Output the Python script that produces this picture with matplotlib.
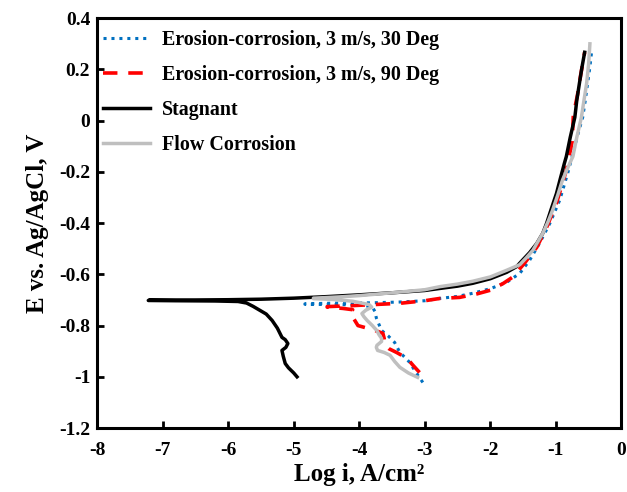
import matplotlib.pyplot as plt
from matplotlib.ticker import FuncFormatter

plt.rcParams['font.family'] = ['Liberation Serif', 'DejaVu Serif']
plt.rcParams['font.weight'] = 'bold'
plt.rcParams['axes.unicode_minus'] = False

# Erosion-corrosion, 3 m/s, 30 Deg
ec30_x = [-3.03, -3.13, -3.23, -3.30, -3.38, -3.46, -3.56, -3.66, -3.70, -3.74, -3.76, -3.80, -3.95, -4.3, -4.83,
          -4.83, -4.3, -3.8, -3.38, -3.0, -2.77, -2.5, -2.27, -2.0, -1.75, -1.55, -1.40, -1.25, -1.09, -0.94,
          -0.82, -0.74, -0.66, -0.59, -0.55, -0.515, -0.48, -0.455]
ec30_y = [-1.022, -0.985, -0.944, -0.925, -0.905, -0.866, -0.84, -0.819, -0.795, -0.77, -0.745, -0.728, -0.72, -0.718, -0.717,
          -0.715, -0.712, -0.711, -0.708, -0.703, -0.694, -0.686, -0.674, -0.656, -0.631, -0.596, -0.545, -0.479, -0.40, -0.31,
          -0.206, -0.13, -0.05, 0.013, 0.08, 0.146, 0.21, 0.267]

# Erosion-corrosion, 3 m/s, 90 Deg
ec90_x = [-3.08, -3.18, -3.27, -3.43, -3.55, -3.61, -3.62, -3.64, -3.75, -3.88, -4.02, -4.08, -4.14, -4.10, -4.25, -4.49,
          -4.49, -4.1, -3.7, -3.38, -3.0, -2.77, -2.47, -2.2, -2.0, -1.8, -1.66, -1.48, -1.29, -1.14, -0.99,
          -0.84, -0.75, -0.73, -0.71, -0.67, -0.62, -0.56]
ec90_y = [-0.983, -0.955, -0.928, -0.905, -0.89, -0.877, -0.85, -0.83, -0.82, -0.81, -0.80, -0.775, -0.753, -0.738, -0.733, -0.728,
          -0.726, -0.722, -0.717, -0.713, -0.703, -0.694, -0.69, -0.676, -0.662, -0.635, -0.611, -0.557, -0.494, -0.416, -0.322,
          -0.194, -0.08, 0.04, 0.05, 0.1, 0.18, 0.267]

# Stagnant
stag_x = [-4.95, -5.0, -5.08, -5.13, -5.16, -5.18, -5.12, -5.09, -5.13, -5.18, -5.25, -5.33, -5.42, -5.52, -5.62, -5.72,
          -5.85, -6.2, -6.8, -7.22,
          -7.2, -6.5, -6.0, -5.5, -5.0, -4.5, -4.0, -3.5, -3.0, -2.77, -2.5, -2.27, -2.0, -1.75, -1.6, -1.51,
          -1.4, -1.29, -1.2, -1.14, -1.07, -0.99, -0.93, -0.87, -0.84, -0.78, -0.71, -0.68, -0.64, -0.60, -0.56]
stag_y = [-1.0, -0.985, -0.965, -0.948, -0.92, -0.897, -0.885, -0.87, -0.855, -0.846, -0.81, -0.78, -0.755, -0.74, -0.725, -0.712,
          -0.706, -0.704, -0.703, -0.702,
          -0.700, -0.700, -0.699, -0.697, -0.693, -0.687, -0.680, -0.672, -0.663, -0.655, -0.646, -0.635, -0.617, -0.592, -0.57, -0.545,
          -0.515, -0.479, -0.44, -0.40, -0.345, -0.284, -0.225, -0.167, -0.14, -0.065, 0.013, 0.08, 0.146, 0.21, 0.267]

# Flow Corrosion
flow_x = [-3.11, -3.25, -3.38, -3.46, -3.53, -3.62, -3.72, -3.74, -3.73, -3.66, -3.66, -3.70, -3.73, -3.80, -3.88, -3.93,
          -3.96, -3.90, -3.81, -3.85, -4.1, -4.4, -4.7,
          -4.7, -4.3, -4.0, -3.5, -3.0, -2.77, -2.5, -2.27, -2.0, -1.75, -1.55, -1.45, -1.35, -1.2, -1.12, -1.05,
          -0.97, -0.9, -0.82, -0.74, -0.68, -0.61, -0.57, -0.53, -0.50, -0.48]
flow_y = [-1.002, -0.985, -0.963, -0.94, -0.916, -0.905, -0.897, -0.885, -0.877, -0.862, -0.85, -0.835, -0.82, -0.80, -0.78, -0.765,
          -0.753, -0.74, -0.728, -0.718, -0.705, -0.698, -0.695,
          -0.693, -0.688, -0.683, -0.672, -0.66, -0.648, -0.638, -0.627, -0.61, -0.584, -0.562, -0.535, -0.506, -0.44, -0.395, -0.35,
          -0.29, -0.233, -0.185, -0.14, -0.065, 0.013, 0.08, 0.146, 0.22, 0.30]

x_ticks = [-8, -7, -6, -5, -4, -3, -2, -1, 0]
y_ticks = [-1.2, -1.0, -0.8, -0.6, -0.4, -0.2, 0, 0.2, 0.4]

fig = plt.figure(figsize=(6.27, 4.92), dpi=100)
ax = fig.add_axes([0.155, 0.130, 0.836, 0.833])

ax.plot(ec30_x, ec30_y, color='#0070C0', linestyle=(0, (1, 1.6)), linewidth=2.2, label='Erosion-corrosion, 3 m/s, 30 Deg')
ax.plot(ec90_x, ec90_y, color='#FF0000', linestyle=(0, (4, 3)), linewidth=2.6, label='Erosion-corrosion, 3 m/s, 90 Deg')
ax.plot(stag_x, stag_y, color='black', linewidth=2.5, label='Stagnant')
ax.plot(flow_x, flow_y, color='#BFBFBF', linewidth=2.5, label='Flow Corrosion')

ax.set_xlim(-8, 0)
ax.set_ylim(-1.2, 0.4)
ax.set_xticks(x_ticks)
ax.set_yticks(y_ticks)
ax.yaxis.set_major_formatter(FuncFormatter(lambda v, p: '0' if abs(v) < 1e-9 else ('%g' % round(v, 1))))

for s in ax.spines.values():
    s.set_linewidth(2.2)
ax.tick_params(direction='in', length=5, width=2, labelsize=14)
ax.tick_params(axis='x', pad=10)
ax.tick_params(axis='y', pad=5)
for lab in ax.get_xticklabels() + ax.get_yticklabels():
    lab.set_fontweight('bold')

ax.set_xlabel('Log i, A/cm²', fontsize=18, fontweight='bold', labelpad=3)
ax.set_ylabel('E vs. Ag/AgCl, V', fontsize=18, fontweight='bold', labelpad=7)

ax.legend(loc='upper left', bbox_to_anchor=(0.0, 0.985), frameon=False, handlelength=2.35, labelspacing=0.75,
          handletextpad=0.6, borderaxespad=0.1, borderpad=0.2, prop={'weight': 'bold', 'size': 14.4})

fig.savefig('out.png', dpi=100)
